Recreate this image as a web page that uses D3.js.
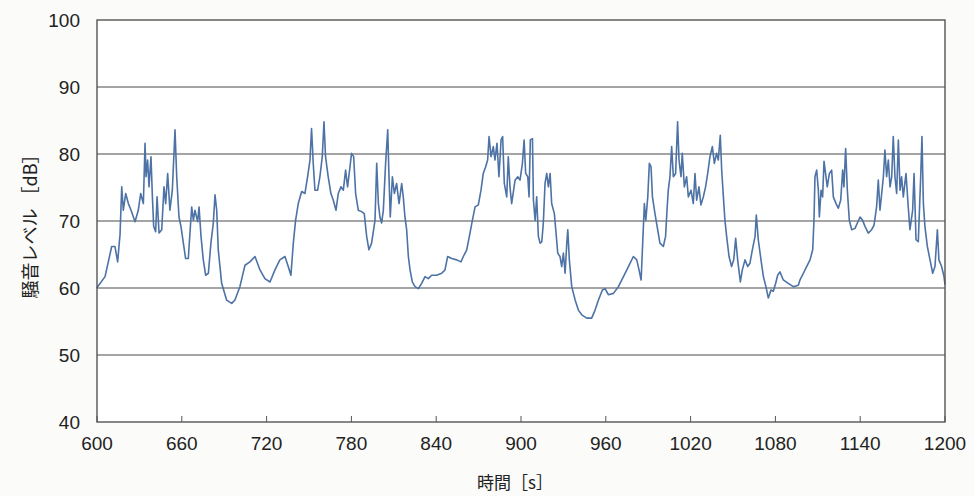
<!DOCTYPE html>
<html>
<head>
<meta charset="utf-8">
<script src="https://cdn.jsdelivr.net/npm/d3@7"></script>
<style>
  body { margin: 0; background: #fbfbf9; }
  .y-label { font-family: "Liberation Sans", Arial, sans-serif; font-size: 19px; fill: #222; }
  .x-label { font-family: "Liberation Sans Narrow", "Liberation Sans", Arial, sans-serif; font-size: 19px; fill: #222; }
  .axis-title { font-family: "Noto Sans CJK JP", sans-serif; font-size: 17px; fill: #222; }
</style>
</head>
<body>
<div id="chart"></div>
<script>
// time [s]
var times = [
  599.8, 605.7, 610.4, 612.7, 614.6, 616.3, 617.5, 618.6, 620.3, 622.2, 624.1, 626.9, 629.2, 630.9, 632.8,
  634.0, 634.7, 635.8, 636.8, 638.2, 639.2, 640.1, 641.5, 642.5, 643.9, 645.8, 647.4, 648.6, 650.0, 651.6,
  653.3, 655.2, 656.4, 658.0, 659.4, 661.1, 662.7, 664.6, 667.0, 668.2, 669.3, 671.2, 672.2, 673.6, 675.2,
  676.9, 678.8, 680.6, 682.3, 683.5, 684.7, 685.8, 688.2, 691.7, 695.3,
  697.6, 701.1, 704.7, 708.2, 711.8, 715.3, 718.8, 722.4, 725.9, 729.4, 733.0, 735.3, 737.2, 738.9, 740.5,
  742.4, 744.8, 747.1, 749.0, 750.7, 751.8, 753.0, 754.2, 756.1, 757.7, 759.4, 760.6, 761.7, 763.6, 765.5,
  767.2, 769.1, 770.7, 772.6, 774.3, 775.9, 777.3, 779.0, 780.1, 781.6, 783.0, 784.9, 787.2, 789.1, 790.8,
  792.4, 794.3,
  796.7, 797.9, 799.1, 800.2, 801.4, 802.6, 804.2, 805.7, 806.6, 807.5, 809.0, 810.4, 812.0, 813.7, 815.6,
  816.7, 817.9, 819.1, 820.3, 821.5, 823.1, 825.0, 827.4, 829.7, 832.1, 834.4, 836.8, 840.3, 843.9, 846.2,
  848.1, 851.0, 854.5, 857.5, 859.2, 861.6, 863.9, 865.6, 867.5, 869.8, 871.7, 873.3, 875.0, 876.4, 877.4,
  878.8, 880.4, 881.6, 883.0, 884.4, 885.9, 887.0, 888.2, 889.9, 891.0, 892.2, 893.4,
  895.8, 897.7, 899.3, 901.0, 902.2, 903.3, 904.8, 905.7, 906.6, 908.1, 908.8, 910.0, 911.1, 912.3, 913.5,
  914.7, 915.8, 917.0, 918.2, 919.4, 920.6, 921.7, 923.6, 924.6, 926.0, 927.6, 928.8, 930.0, 931.2, 932.4,
  933.1, 934.2, 935.9, 938.3, 940.6, 943.0, 946.5, 950.0, 952.4, 954.8, 957.6, 959.5, 961.8, 965.4, 968.9,
  972.5, 976.0, 979.5, 981.9, 983.5, 985.0, 986.1, 987.3, 988.3, 989.7, 990.8, 992.0, 993.0,
  994.8, 996.7, 998.3, 1000.7, 1002.3, 1003.3, 1004.2, 1005.4, 1006.6, 1007.8, 1009.4, 1010.8, 1011.8, 1013.2, 1014.1,
  1015.6, 1017.2, 1018.4, 1020.3, 1021.9, 1023.1, 1024.3, 1025.9, 1027.3, 1029.0, 1030.6, 1032.1, 1033.7, 1035.4, 1036.8,
  1038.4, 1039.6, 1041.0, 1042.0, 1043.2, 1044.3, 1045.5, 1047.2, 1049.0, 1050.5, 1051.9, 1053.3, 1055.2, 1056.6, 1058.5,
  1060.4, 1062.0, 1063.7, 1065.6, 1066.5, 1067.9, 1069.8, 1071.5, 1073.3, 1075.0, 1076.9, 1078.5, 1080.2, 1081.6, 1083.2,
  1085.6, 1089.1, 1092.7, 1096.2,
  1097.4, 1099.8, 1102.1, 1104.5, 1106.4, 1107.3, 1108.0, 1109.2, 1110.4, 1111.1, 1112.3, 1113.4, 1114.4, 1115.8, 1116.7,
  1118.2, 1119.8, 1121.0, 1122.9, 1124.5, 1126.2, 1127.6, 1128.5, 1129.7, 1130.9, 1132.3, 1134.0, 1136.3, 1138.0, 1139.9,
  1141.7, 1143.4, 1145.7, 1148.1, 1149.8, 1151.6, 1152.8, 1154.0, 1155.2, 1156.4, 1157.5, 1158.7, 1159.9, 1161.1, 1162.3,
  1163.4, 1164.6, 1165.8, 1167.0, 1168.2, 1169.3, 1170.5, 1172.4, 1174.0, 1175.2, 1177.1, 1178.1, 1179.5, 1181.1, 1182.8,
  1183.7, 1184.7, 1185.8, 1187.5, 1189.4, 1191.3, 1192.9, 1194.6, 1195.7, 1197.6, 1199.3, 1200.0
];

// noise level [dB]
var levels = [
  60.0, 61.7, 66.2, 66.2, 63.9, 68.0, 75.1, 71.6, 74.1, 72.6, 71.6, 69.9, 71.6, 74.1, 72.6,
  81.6, 76.6, 79.1, 75.1, 79.6, 73.6, 69.2, 68.4, 73.6, 68.2, 68.7, 75.1, 72.6, 77.1, 71.6,
  74.6, 83.6, 76.6, 70.6, 69.2, 66.7, 64.4, 64.4, 72.1, 70.1, 71.6, 69.9, 72.1, 67.7, 64.2,
  61.9, 62.2, 66.7, 69.7, 73.9, 71.6, 65.7, 60.7, 58.2, 57.7,
  58.2, 60.2, 63.4, 63.9, 64.7, 62.7, 61.4, 60.9, 62.7, 64.2, 64.7, 63.2, 61.9, 66.7, 70.1,
  72.6, 74.4, 74.1, 76.6, 79.1, 83.8, 78.6, 74.6, 74.6, 76.6, 79.6, 84.8, 79.6, 76.6, 74.1,
  73.1, 71.6, 74.1, 75.1, 74.6, 77.6, 75.1, 78.1, 80.1, 79.6, 74.1, 71.6, 71.4, 71.1, 67.7,
  65.7, 66.7,
  70.1, 78.6, 72.6, 70.6, 69.7, 71.6, 78.6, 83.6, 76.6, 70.6, 76.6, 74.1, 75.6, 72.6, 75.6,
  73.6, 70.6, 68.7, 64.7, 62.7, 60.9, 60.2, 59.9, 60.7, 61.7, 61.4, 61.9, 61.9, 62.2, 62.7,
  64.7, 64.4, 64.2, 63.9, 64.7, 65.7, 68.2, 70.1, 72.1, 72.4, 74.6, 77.1, 78.1, 79.1, 82.6,
  79.6, 81.1, 79.1, 81.6, 76.6, 82.1, 82.6, 75.6, 73.6, 79.6, 75.1, 72.6,
  76.1, 76.6, 76.1, 78.6, 82.1, 77.1, 76.6, 73.6, 82.1, 82.3, 73.1, 70.1, 73.6, 67.7, 66.7,
  66.9, 69.7, 75.6, 77.1, 75.1, 77.1, 72.6, 71.1, 68.7, 65.2, 64.7, 63.2, 65.2, 62.2, 66.7,
  68.7, 64.2, 60.2, 58.2, 56.7, 56.0, 55.5, 55.5, 56.7, 58.2, 59.7, 59.9, 59.0, 59.2, 60.2,
  61.7, 63.2, 64.7, 64.2, 62.7, 61.2, 66.7, 72.6, 70.1, 73.6, 78.6, 78.1, 73.6,
  71.1, 68.7, 66.7, 66.2, 67.7, 71.6, 74.6, 76.6, 81.1, 76.6, 77.1, 84.8, 79.1, 76.6, 80.1,
  75.1, 76.6, 73.6, 74.6, 72.6, 77.1, 73.1, 75.1, 72.4, 73.6, 75.1, 77.1, 79.6, 81.1, 78.6,
  80.1, 79.1, 82.8, 77.6, 73.6, 70.1, 67.7, 64.7, 63.2, 64.2, 67.4, 64.2, 60.9, 62.7, 64.2,
  63.2, 63.7, 65.7, 67.7, 70.9, 67.2, 64.2, 61.7, 60.2, 58.5, 59.7, 59.5, 60.7, 61.9, 62.4,
  61.2, 60.7, 60.2, 60.4,
  61.2, 62.2, 63.2, 64.2, 65.7, 70.1, 76.6, 77.6, 74.6, 70.6, 74.6, 73.6, 78.9, 76.6, 75.1,
  77.1, 77.6, 73.6, 72.6, 71.9, 73.1, 77.6, 75.1, 80.8, 74.6, 70.1, 68.7, 68.9, 69.7, 70.6,
  70.1, 69.2, 68.2, 68.7, 69.4, 72.1, 76.1, 71.6, 74.1, 76.6, 80.6, 76.6, 79.1, 75.1, 76.6,
  82.6, 76.6, 74.1, 82.1, 74.6, 76.6, 73.6, 77.1, 72.1, 68.7, 71.6, 77.1, 67.2, 66.9, 76.6,
  82.6, 72.6, 69.2, 66.2, 64.2, 62.2, 63.2, 68.7, 64.2, 63.2, 61.7, 60.5
];

var xTicks = [600, 660, 720, 780, 840, 900, 960, 1020, 1080, 1140, 1200];
var yTicks = [40, 50, 60, 70, 80, 90, 100];

var width = 974, height = 496;
var margin = { left: 97, top: 20, right: 29, bottom: 74 };

var svg = d3.select('#chart')
  .append('svg')
  .attr('width', width)
  .attr('height', height);

var x = d3.scaleLinear()
  .domain([600, 1200])
  .range([margin.left, width - margin.right]);

var y = d3.scaleLinear()
  .domain([40, 100])
  .range([height - margin.bottom, margin.top]);

// plot background
svg.append('rect')
  .attr('x', x(600))
  .attr('y', y(100))
  .attr('width', x(1200) - x(600))
  .attr('height', y(40) - y(100))
  .attr('fill', '#ffffff');

// horizontal gridlines
svg.append('g')
  .selectAll('line')
  .data(yTicks.filter(function(d) { return d > 40 && d < 100; }))
  .enter()
  .append('line')
  .attr('x1', x(600))
  .attr('x2', x(1200))
  .attr('y1', function(d) { return y(d); })
  .attr('y2', function(d) { return y(d); })
  .attr('stroke', '#4a4a4a')
  .attr('stroke-width', 1.2);

// inner tick marks on the bottom axis
svg.append('g')
  .selectAll('line')
  .data(xTicks)
  .enter()
  .append('line')
  .attr('x1', function(d) { return x(d); })
  .attr('x2', function(d) { return x(d); })
  .attr('y1', y(40))
  .attr('y2', y(40) - 6)
  .attr('stroke', '#555')
  .attr('stroke-width', 1);

// the noise trace
var data = times.map(function(t, i) { return [t, levels[i]]; });

var line = d3.line()
  .x(function(d) { return x(d[0]); })
  .y(function(d) { return y(d[1]); });

svg.append('path')
  .datum(data)
  .attr('d', line)
  .attr('fill', 'none')
  .attr('stroke', '#4d72a5')
  .attr('stroke-width', 1.6)
  .attr('stroke-linejoin', 'round');

// frame
svg.append('rect')
  .attr('x', x(600))
  .attr('y', y(100))
  .attr('width', x(1200) - x(600))
  .attr('height', y(40) - y(100))
  .attr('fill', 'none')
  .attr('stroke', '#555')
  .attr('stroke-width', 1.4);

// tick labels
svg.append('g')
  .selectAll('text')
  .data(yTicks)
  .enter()
  .append('text')
  .attr('class', 'y-label')
  .attr('x', x(600) - 17)
  .attr('y', function(d) { return y(d); })
  .attr('dy', '0.35em')
  .attr('text-anchor', 'end')
  .text(function(d) { return d; });

svg.append('g')
  .selectAll('text')
  .data(xTicks)
  .enter()
  .append('text')
  .attr('class', 'x-label')
  .attr('x', function(d) { return x(d); })
  .attr('y', y(40) + 21)
  .attr('dy', '0.35em')
  .attr('text-anchor', 'middle')
  .text(function(d) { return d; });

// axis titles
svg.append('text')
  .attr('class', 'axis-title')
  .attr('x', 515)
  .attr('y', 483)
  .attr('dy', '0.35em')
  .attr('text-anchor', 'middle')
  .text('時間［s］');

svg.append('text')
  .attr('class', 'axis-title')
  .attr('transform', 'translate(31,222) rotate(-90)')
  .attr('dy', '0.35em')
  .attr('text-anchor', 'middle')
  .style('font-size', '18px')
  .text('騒音レベル ［dB］');
</script>
</body>
</html>
